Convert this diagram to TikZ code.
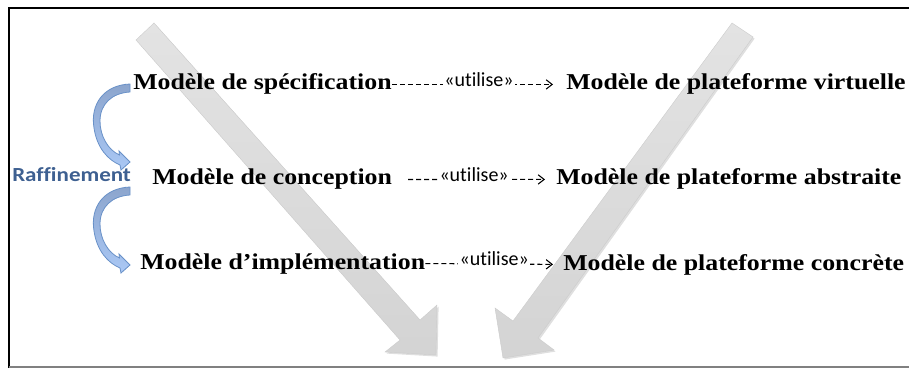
\documentclass[tikz,border=0pt]{standalone}
\usepackage{fontspec}
\setmainfont{Liberation Serif}[FakeStretch=1.14]
\newfontfamily\raffont[FakeStretch=1.15, Ligatures=CommonOff]{Carlito}
\newfontfamily\utilfont[Ligatures=CommonOff]{Carlito}
\usetikzlibrary{arrows.meta, shadows}

\definecolor{raffblue}{RGB}{62,96,145}
\definecolor{raffline}{RGB}{105,145,200}
\definecolor{rafftop}{RGB}{140,165,205}
\definecolor{raffbot}{RGB}{170,200,245}

\begin{document}
\begin{tikzpicture}[x=0.75pt, y=-0.75pt,
	model/.style={inner sep=0pt, anchor=base west, font=\fontsize{17}{20}\selectfont\bfseries},
	uses/.style={dash pattern=on 3.75pt off 2.25pt, line width=0.8pt, -{Straight Barb[length=4.5pt, width=7pt]}},
	lbl/.style={fill=white, inner sep=1pt, anchor=base, yshift=-1.5pt, font=\utilfont\fontsize{15}{18}\selectfont},
	bigarrow/.style={draw=gray!40, line width=0.3pt, top color=gray!22, bottom color=gray!34, drop shadow={opacity=0.25, shadow xshift=1.2pt, shadow yshift=-1.2pt}},
	refine/.style={draw=raffline, line width=0.6pt, top color=rafftop, bottom color=raffbot}]
	\useasboundingbox (0,0) rectangle (909,370);

	% Frame
	\draw[line width=2pt] (9,368) -- (9,8) -- (909,8);
	\draw[gray, line width=1.2pt] (9,367) -- (909,367);

	% Big gray arrows
	\path[bigarrow] (136,40) -- (154,23) -- (420,320) -- (437,305) -- (436,355) -- (385,352) -- (400,340) -- cycle;
	\path[bigarrow] (732,23) -- (753,37) -- (538,338) -- (554,350) -- (503,358) -- (495,308) -- (513,321) -- cycle;

	% Nodes
	\node[model] (spec) at (133,90) {Modèle de spécification};
	\node[model] (conc) at (152,185) {Modèle de conception};
	\node[model] (impl) at (140,269) {Modèle d’implémentation};
	\node[model] (virt) at (566,90) {Modèle de plateforme virtuelle};
	\node[model] (abst) at (556,185) {Modèle de plateforme abstraite};
	\node[model] (concr) at (563,270) {Modèle de plateforme concrète};
	\node[inner sep=0pt, anchor=base west, text=raffblue, font=\raffont\fontsize{15}{18}\selectfont\bfseries] (raff) at (12,182) {Raffinement};

	% Refinement arrows
	\path[refine] (130,84) .. controls (104,85) and (90,104) .. (94,128) .. controls (97,148) and (108,160) .. (120,165) -- (121,170) -- (130,162) -- (119,151) -- (119.5,155) .. controls (108,150) and (100,136) .. (100,121) .. controls (100,104) and (112,93) .. (130,92) -- cycle;
	\path[refine, shift={(0,103)}] (130,84) .. controls (104,85) and (90,104) .. (94,128) .. controls (97,148) and (108,160) .. (120,165) -- (121,170) -- (130,162) -- (119,151) -- (119.5,155) .. controls (108,150) and (100,136) .. (100,121) .. controls (100,104) and (112,93) .. (130,92) -- cycle;

	% Uses transitions
	\draw[uses, shorten >=9.75pt] (spec.east) -- (virt.west) node[lbl, midway] {«utilise»};
	\draw[uses, shorten <=12pt, shorten >=8.25pt] (conc.east) -- (abst.west) node[lbl, midway] {«utilise»};
	\draw[uses, shorten >=7.5pt] (impl.east) -- (concr.west) node[lbl, midway] {«utilise»};
\end{tikzpicture}
\end{document}
